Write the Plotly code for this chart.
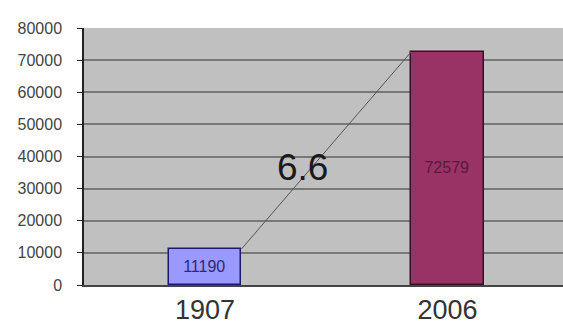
import plotly.graph_objects as go

# Data
years = ["1907", "2006"]
values = [11190, 72579]
bar_colors = ["#9999FF", "#993366"]
bar_edges = ["#1A1A66", "#3A0F26"]
label_colors = ["#2A2A7A", "#5A1A40"]
ratio_label = "6.6"
y_ticks = [0, 10000, 20000, 30000, 40000, 50000, 60000, 70000, 80000]

xpos = [0, 1]
bar_w = 0.3

fig = go.Figure()

fig.add_trace(go.Bar(
    x=xpos,
    y=values,
    width=bar_w,
    marker=dict(color=bar_colors, line=dict(color=bar_edges, width=1.5)),
    text=[str(v) for v in values],
    textposition="inside",
    insidetextanchor="middle",
    textfont=dict(family="Liberation Sans, Arial", size=16, color=label_colors),
    hoverinfo="skip",
    showlegend=False,
))

# Connector from the top of the first bar to the top of the second
fig.add_trace(go.Scatter(
    x=[xpos[0] + bar_w / 2, xpos[1] - bar_w / 2],
    y=values,
    mode="lines",
    line=dict(color="#555555", width=1),
    hoverinfo="skip",
    showlegend=False,
))

fig.add_annotation(
    x=0.4, y=36700, text=ratio_label, showarrow=False,
    font=dict(family="Liberation Sans, Arial", size=37, color="#1a1a1a"),
)

fig.update_layout(
    width=563, height=329,
    margin=dict(l=84, r=0, t=28, b=44),
    paper_bgcolor="white",
    plot_bgcolor="#C0C0C0",
    bargap=0,
    uniformtext=dict(minsize=16, mode="show"),
    xaxis=dict(
        range=[-0.499, 1.476],
        tickvals=xpos,
        ticktext=years,
        showgrid=False,
        zeroline=False,
        showline=True, linecolor="#444444", linewidth=1.5,
        ticks="",
        tickfont=dict(family="Liberation Sans, Arial", size=27, color="#333333"),
    ),
    yaxis=dict(
        range=[0, 80000],
        tickvals=y_ticks,
        ticktext=[str(t) for t in y_ticks],
        showgrid=True, gridcolor="#787878", gridwidth=1.5,
        zeroline=False,
        showline=True, linecolor="#222222", linewidth=1.5,
        ticks="outside", ticklen=5, tickcolor="#222222",
        ticklabelstandoff=12,
        tickfont=dict(family="Liberation Sans, Arial", size=16, color="#444444"),
    ),
)

fig.write_html("out.html")
